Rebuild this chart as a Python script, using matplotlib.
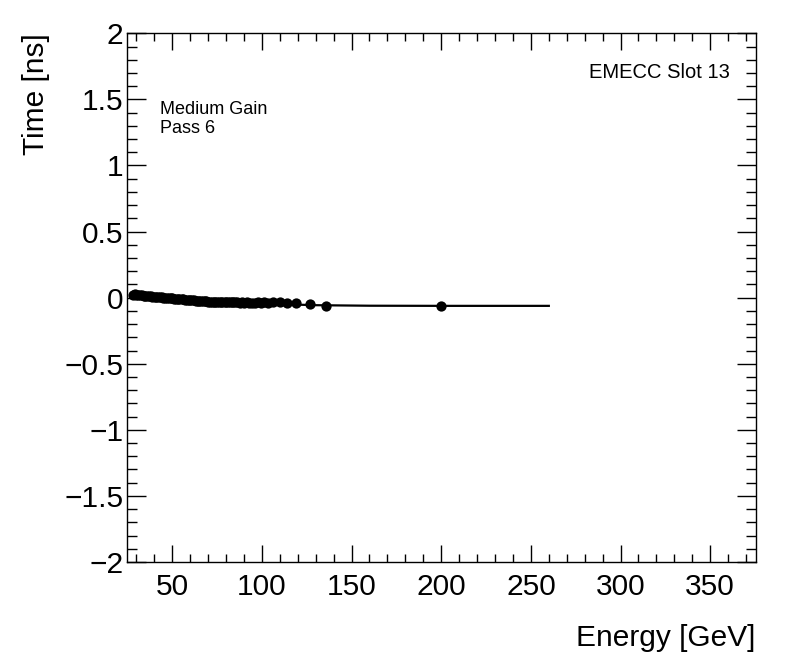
import matplotlib
matplotlib.use("Agg")
import matplotlib.pyplot as plt
from matplotlib.ticker import MultipleLocator, FuncFormatter

plt.rcParams['font.family'] = ['Liberation Sans', 'DejaVu Sans']

energy = [28.0, 29.1, 30.0, 31.2, 32.1, 33.0, 34.2, 35.1, 36.0, 37.2, 38.1, 39.0,
          40.2, 41.1, 42.0, 43.2, 44.1, 45.0, 46.2, 47.1, 48.0, 49.2, 50.1, 51.0,
          52.2, 53.1, 54.0, 55.2, 56.1, 57.0, 58.2, 59.1, 60.0, 61.2, 62.1, 63.0,
          64.2, 65.1, 66.0, 67.2, 68.1, 69.0, 70.2, 71.1, 72.0, 73.2, 74.1, 75.0,
          76.2, 77.1, 78.0, 79.2, 80.1, 81.0, 82.2, 83.1, 84.0, 85.2, 86.4, 87.6,
          88.8, 90.0, 91.5, 93.0, 94.5, 96.0, 97.8, 99.6, 101.4, 103.2,
          106.3, 110.1, 113.8, 118.8, 126.8, 135.7, 199.8]
time_ns = [0.022, 0.024, 0.020, 0.020, 0.017, 0.018, 0.014, 0.014, 0.011, 0.010, 0.010, 0.007,
           0.006, 0.005, 0.003, 0.002, 0.002, -0.001, -0.002, -0.002, -0.005, -0.006, -0.006, -0.008,
           -0.009, -0.009, -0.012, -0.013, -0.013, -0.016, -0.017, -0.017, -0.020, -0.021, -0.021, -0.023,
           -0.024, -0.024, -0.026, -0.027, -0.027, -0.029, -0.030, -0.030, -0.031, -0.032, -0.031, -0.033,
           -0.034, -0.033, -0.034, -0.035, -0.034, -0.035, -0.036, -0.035, -0.036, -0.036, -0.035, -0.037,
           -0.036, -0.037, -0.036, -0.038, -0.037, -0.038, -0.036, -0.038, -0.035, -0.037,
           -0.030, -0.035, -0.037, -0.039, -0.046, -0.063, -0.066]

fit_energy = [28, 40, 60, 80, 100, 130, 160, 200, 260]
fit_time = [0.020, 0.007, -0.018, -0.035, -0.045, -0.057, -0.061, -0.062, -0.062]

label_text = ["Medium Gain", "Pass 6"]
slot_text = "EMECC Slot 13"

fig = plt.figure(figsize=(7.96, 6.72), dpi=100)
ax = fig.add_axes([0.16, 0.1637, 0.7897, 0.7867])

ax.plot(fit_energy, fit_time, color='black', lw=1.6, zorder=2)
ax.plot(energy, time_ns, 'o', color='black', markersize=7.4, markeredgewidth=0, zorder=3)

ax.set_xlim(25, 375.5)
ax.set_ylim(-2, 2)

ax.xaxis.set_major_locator(MultipleLocator(50))
ax.xaxis.set_minor_locator(MultipleLocator(10))
ax.yaxis.set_major_locator(MultipleLocator(0.5))
ax.yaxis.set_minor_locator(MultipleLocator(0.1))

def yfmt(v, pos):
    s = ('%g' % v)
    if s == '-0':
        s = '0'
    return s.replace('-', '\u2212')
ax.yaxis.set_major_formatter(FuncFormatter(yfmt))

ax.tick_params(which='both', direction='in', top=True, right=True, labelsize=21.5, width=1, color='black')
ax.tick_params(axis='x', which='major', length=12.2, pad=8)
ax.tick_params(axis='x', which='minor', length=6.1)
ax.tick_params(axis='y', which='major', length=13.7, pad=3)
ax.tick_params(axis='y', which='minor', length=7.2)
for sp in ax.spines.values():
    sp.set_linewidth(1)

fig.text(755/796, 1 - 646/672, "Energy [GeV]", fontsize=21.5, ha='right', va='baseline')
fig.text(22/796, 1 - 33/672, "Time [ns]", fontsize=21.5, ha='left', va='top', rotation=90)

fig.text(160/796, 1 - 114.3/672, label_text[0], fontsize=13, ha='left', va='baseline')
fig.text(160/796, 1 - 133.3/672, label_text[1], fontsize=13, ha='left', va='baseline')
fig.text(730/796, 1 - 78.3/672, slot_text, fontsize=14.5, ha='right', va='baseline')

fig.savefig("out.png", dpi=100)
